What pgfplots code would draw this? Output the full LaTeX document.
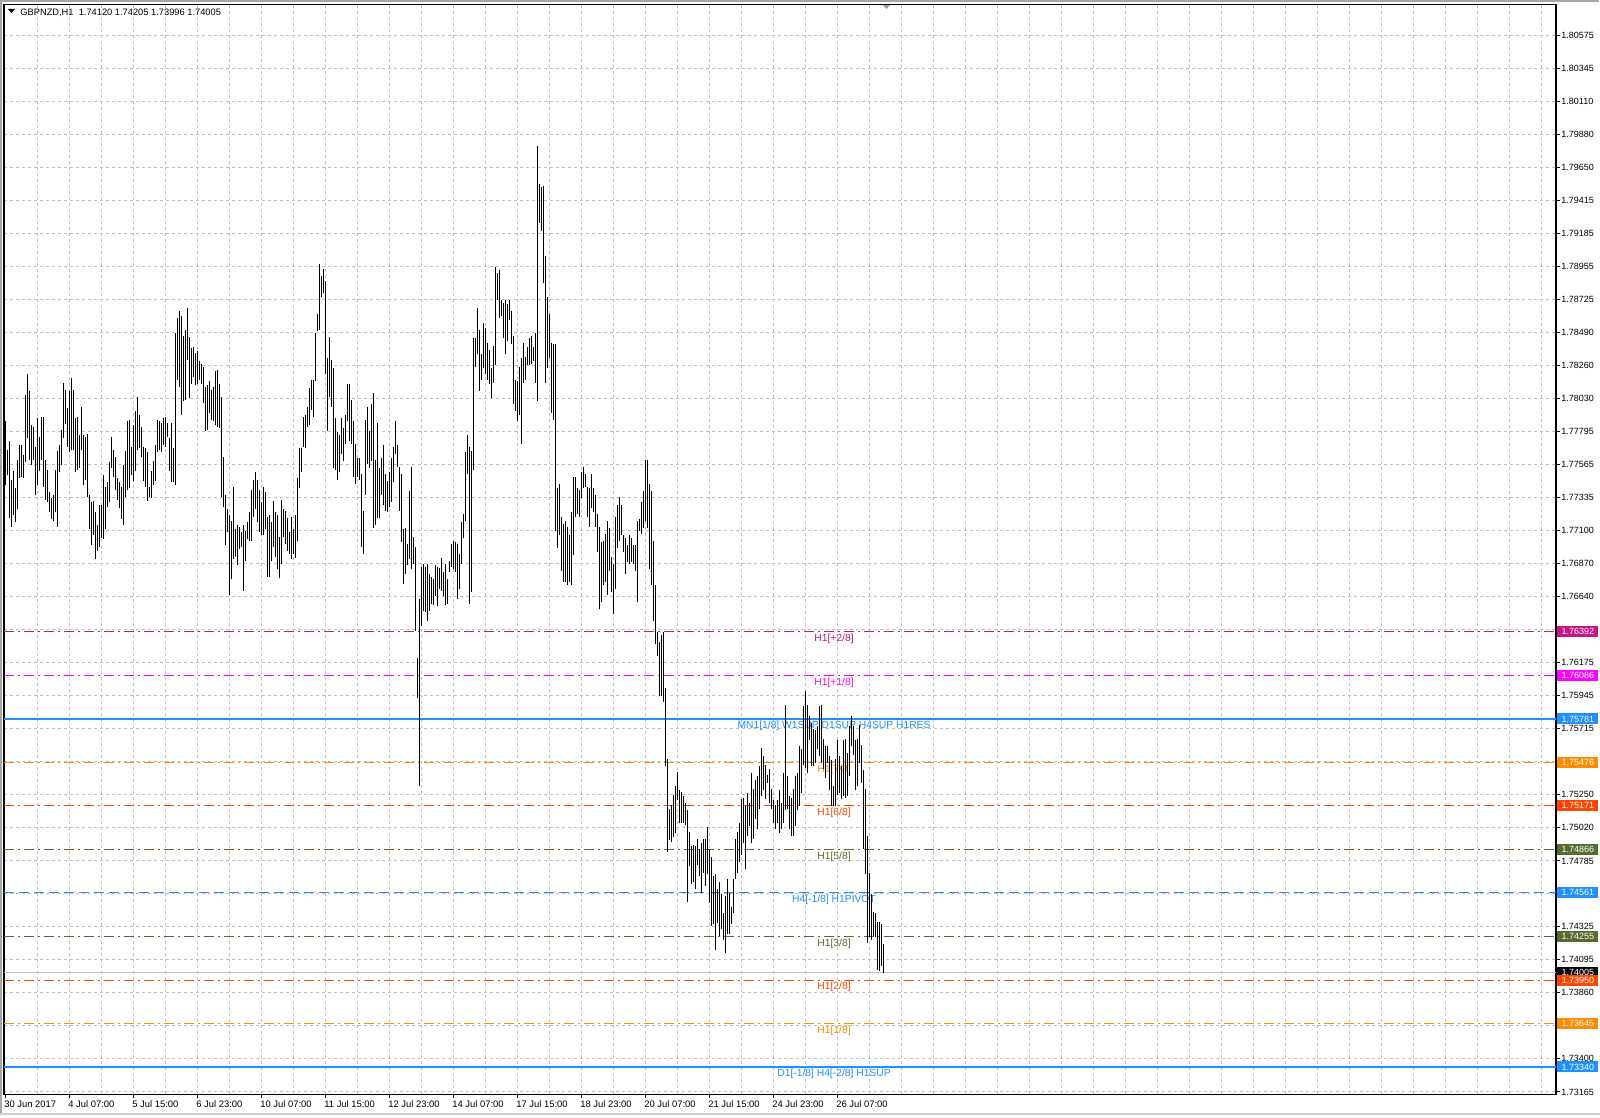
\documentclass[border=0pt]{standalone}
\usepackage{pgfplots}
\pgfplotsset{compat=1.18}
\usepackage{pgfplotstable}
\usepackage{fontspec}
\setmainfont{Liberation Sans}

\definecolor{mvred}{HTML}{C71585}
\definecolor{mag}{HTML}{FF00FF}
\definecolor{dblue}{HTML}{1E90FF}
\definecolor{dorange}{HTML}{FF8C00}
\definecolor{ored}{HTML}{FF4500}
\definecolor{olv}{HTML}{556B2F}
\definecolor{gridc}{HTML}{C0C0C0}

% GBPNZD H1 bars: low, high (bar index = row number)
\pgfplotstableread{
l h
1.7742 1.7787
1.7749 1.7767
1.7719 1.7773
1.7713 1.7746
1.7721 1.7752
1.7716 1.7740
1.7725 1.7760
1.7747 1.7770
1.7748 1.7770
1.7747 1.7763
1.7758 1.7805
1.7775 1.7820
1.7760 1.7808
1.7756 1.7784
1.7760 1.7783
1.7735 1.7769
1.7742 1.7789
1.7752 1.7776
1.7760 1.7790
1.7741 1.7790
1.7732 1.7760
1.7730 1.7753
1.7723 1.7737
1.7718 1.7733
1.7717 1.7735
1.7723 1.7753
1.7713 1.7766
1.7751 1.7770
1.7756 1.7781
1.7775 1.7814
1.7785 1.7809
1.7769 1.7796
1.7765 1.7808
1.7767 1.7817
1.7767 1.7809
1.7751 1.7789
1.7753 1.7790
1.7754 1.7777
1.7767 1.7797
1.7742 1.7777
1.7746 1.7776
1.7734 1.7778
1.7711 1.7735
1.7700 1.7730
1.7707 1.7731
1.7690 1.7723
1.7696 1.7714
1.7699 1.7728
1.7705 1.7728
1.7704 1.7749
1.7711 1.7741
1.7727 1.7744
1.7730 1.7758
1.7754 1.7776
1.7748 1.7767
1.7739 1.7762
1.7732 1.7747
1.7726 1.7744
1.7718 1.7741
1.7714 1.7756
1.7734 1.7766
1.7739 1.7787
1.7740 1.7788
1.7749 1.7769
1.7745 1.7784
1.7752 1.7794
1.7767 1.7804
1.7768 1.7791
1.7762 1.7783
1.7745 1.7769
1.7741 1.7768
1.7731 1.7765
1.7734 1.7741
1.7733 1.7752
1.7742 1.7759
1.7745 1.7770
1.7765 1.7788
1.7767 1.7787
1.7765 1.7786
1.7770 1.7789
1.7769 1.7790
1.7776 1.7786
1.7752 1.7775
1.7744 1.7786
1.7744 1.7768
1.7742 1.7849
1.7816 1.7859
1.7811 1.7864
1.7791 1.7861
1.7801 1.7847
1.7802 1.7851
1.7830 1.7866
1.7803 1.7846
1.7813 1.7838
1.7818 1.7839
1.7812 1.7835
1.7813 1.7836
1.7816 1.7829
1.7813 1.7827
1.7800 1.7825
1.7780 1.7811
1.7781 1.7812
1.7793 1.7815
1.7788 1.7809
1.7787 1.7811
1.7784 1.7822
1.7783 1.7823
1.7782 1.7813
1.7734 1.7804
1.7727 1.7762
1.7700 1.7735
1.7709 1.7725
1.7665 1.7721
1.7676 1.7717
1.7690 1.7741
1.7692 1.7711
1.7686 1.7714
1.7697 1.7713
1.7699 1.7709
1.7668 1.7714
1.7689 1.7710
1.7704 1.7716
1.7703 1.7723
1.7703 1.7739
1.7720 1.7746
1.7725 1.7751
1.7716 1.7746
1.7709 1.7739
1.7707 1.7730
1.7707 1.7741
1.7711 1.7737
1.7678 1.7720
1.7678 1.7721
1.7689 1.7716
1.7699 1.7731
1.7692 1.7723
1.7683 1.7721
1.7677 1.7706
1.7687 1.7732
1.7706 1.7725
1.7701 1.7724
1.7696 1.7719
1.7694 1.7709
1.7690 1.7720
1.7694 1.7711
1.7691 1.7721
1.7703 1.7747
1.7740 1.7768
1.7751 1.7768
1.7769 1.7790
1.7768 1.7791
1.7783 1.7797
1.7784 1.7810
1.7795 1.7816
1.7790 1.7816
1.7815 1.7849
1.7850 1.7862
1.7851 1.7897
1.7874 1.7889
1.7877 1.7894
1.7820 1.7885
1.7780 1.7831
1.7804 1.7846
1.7797 1.7830
1.7754 1.7824
1.7753 1.7789
1.7746 1.7779
1.7751 1.7777
1.7764 1.7789
1.7759 1.7782
1.7771 1.7791
1.7787 1.7813
1.7773 1.7813
1.7771 1.7802
1.7748 1.7787
1.7743 1.7771
1.7748 1.7761
1.7746 1.7761
1.7699 1.7750
1.7694 1.7724
1.7735 1.7788
1.7757 1.7797
1.7754 1.7780
1.7759 1.7799
1.7712 1.7807
1.7714 1.7760
1.7719 1.7786
1.7719 1.7754
1.7735 1.7761
1.7728 1.7770
1.7724 1.7750
1.7723 1.7745
1.7727 1.7751
1.7730 1.7761
1.7744 1.7769
1.7764 1.7787
1.7755 1.7770
1.7724 1.7755
1.7702 1.7750
1.7673 1.7711
1.7680 1.7712
1.7686 1.7701
1.7690 1.7738
1.7683 1.7755
1.7687 1.7706
1.7640 1.7699
1.7593 1.7621
1.7531 1.7662
1.7643 1.7685
1.7654 1.7687
1.7653 1.7685
1.7647 1.7687
1.7654 1.7680
1.7659 1.7678
1.7658 1.7676
1.7664 1.7686
1.7657 1.7685
1.7669 1.7684
1.7668 1.7691
1.7664 1.7681
1.7658 1.7687
1.7659 1.7676
1.7681 1.7689
1.7685 1.7701
1.7683 1.7703
1.7681 1.7702
1.7662 1.7701
1.7669 1.7694
1.7687 1.7716
1.7705 1.7722
1.7717 1.7765
1.7750 1.7777
1.7659 1.7769
1.7667 1.7766
1.7753 1.7845
1.7825 1.7845
1.7834 1.7866
1.7808 1.7851
1.7816 1.7834
1.7824 1.7856
1.7820 1.7852
1.7816 1.7842
1.7813 1.7837
1.7803 1.7824
1.7814 1.7840
1.7826 1.7895
1.7872 1.7891
1.7859 1.7893
1.7861 1.7872
1.7845 1.7870
1.7834 1.7872
1.7843 1.7869
1.7858 1.7872
1.7841 1.7864
1.7799 1.7847
1.7794 1.7816
1.7787 1.7815
1.7791 1.7825
1.7771 1.7831
1.7814 1.7842
1.7816 1.7832
1.7826 1.7839
1.7826 1.7845
1.7827 1.7847
1.7829 1.7839
1.7814 1.7849
1.7801 1.7980
1.7926 1.7953
1.7920 1.7951
1.7884 1.7952
1.7814 1.7903
1.7824 1.7874
1.7831 1.7862
1.7793 1.7842
1.7788 1.7841
1.7710 1.7841
1.7698 1.7740
1.7707 1.7743
1.7682 1.7720
1.7674 1.7715
1.7674 1.7717
1.7672 1.7713
1.7674 1.7707
1.7672 1.7723
1.7693 1.7748
1.7720 1.7748
1.7722 1.7740
1.7720 1.7739
1.7733 1.7751
1.7740 1.7755
1.7741 1.7750
1.7720 1.7741
1.7713 1.7740
1.7726 1.7750
1.7723 1.7740
1.7713 1.7735
1.7695 1.7722
1.7655 1.7713
1.7660 1.7702
1.7672 1.7703
1.7674 1.7708
1.7665 1.7717
1.7682 1.7712
1.7667 1.7692
1.7652 1.7687
1.7669 1.7720
1.7698 1.7728
1.7703 1.7734
1.7707 1.7728
1.7695 1.7707
1.7680 1.7705
1.7688 1.7700
1.7687 1.7707
1.7688 1.7705
1.7687 1.7700
1.7682 1.7700
1.7660 1.7717
1.7710 1.7718
1.7708 1.7730
1.7712 1.7738
1.7717 1.7760
1.7712 1.7760
1.7683 1.7743
1.7672 1.7738
1.7647 1.7703
1.7631 1.7672
1.7622 1.7639
1.7594 1.7632
1.7594 1.7637
1.7590 1.7639
1.7545 1.7600
1.7485 1.7550
1.7493 1.7515
1.7492 1.7518
1.7495 1.7525
1.7498 1.7531
1.7521 1.7541
1.7505 1.7528
1.7505 1.7527
1.7505 1.7524
1.7504 1.7519
1.7450 1.7514
1.7475 1.7499
1.7462 1.7489
1.7464 1.7490
1.7459 1.7489
1.7476 1.7494
1.7468 1.7487
1.7456 1.7491
1.7470 1.7494
1.7461 1.7494
1.7469 1.7502
1.7449 1.7487
1.7433 1.7481
1.7434 1.7468
1.7416 1.7469
1.7435 1.7459
1.7426 1.7464
1.7431 1.7455
1.7423 1.7442
1.7414 1.7454
1.7427 1.7466
1.7427 1.7456
1.7434 1.7446
1.7442 1.7466
1.7466 1.7494
1.7470 1.7499
1.7478 1.7505
1.7483 1.7522
1.7491 1.7523
1.7473 1.7517
1.7496 1.7526
1.7503 1.7519
1.7491 1.7540
1.7494 1.7529
1.7508 1.7535
1.7501 1.7538
1.7515 1.7545
1.7524 1.7558
1.7528 1.7552
1.7522 1.7546
1.7533 1.7539
1.7519 1.7543
1.7515 1.7529
1.7505 1.7521
1.7501 1.7518
1.7505 1.7521
1.7498 1.7528
1.7501 1.7519
1.7505 1.7540
1.7514 1.7588
1.7515 1.7538
1.7501 1.7524
1.7496 1.7523
1.7496 1.7529
1.7503 1.7538
1.7514 1.7540
1.7517 1.7559
1.7526 1.7557
1.7546 1.7587
1.7544 1.7598
1.7540 1.7588
1.7563 1.7580
1.7545 1.7575
1.7545 1.7571
1.7547 1.7570
1.7557 1.7573
1.7552 1.7587
1.7547 1.7588
1.7543 1.7564
1.7537 1.7559
1.7547 1.7559
1.7528 1.7552
1.7517 1.7549
1.7517 1.7531
1.7517 1.7550
1.7525 1.7563
1.7526 1.7552
1.7522 1.7545
1.7524 1.7563
1.7523 1.7564
1.7524 1.7554
1.7538 1.7573
1.7559 1.7580
1.7553 1.7573
1.7528 1.7563
1.7531 1.7564
1.7547 1.7574
1.7533 1.7560
1.7487 1.7542
1.7469 1.7529
1.7421 1.7496
1.7425 1.7470
1.7423 1.7455
1.7426 1.7443
1.7425 1.7442
1.7402 1.7436
1.7401 1.7436
1.7405 1.7434
1.73996 1.74205
}\bars

\tikzset{
  dd/.style={line width=0.55pt, dash pattern=on 5pt off 2pt on 1pt off 2pt},
  lvl/.style={font=\fontsize{5.15pt}{6pt}\selectfont, inner sep=0pt, yshift=-3.5pt},
  tag/.style={text=white, font=\fontsize{4.5pt}{5pt}\selectfont, inner sep=0pt,
    minimum width=20.5pt, minimum height=5.5pt, anchor=west, xshift=0.5pt},
}

\begin{document}
\begin{tikzpicture}[x=1pt,y=1pt]
\fill[white] (0,0) rectangle (800,559);
\begin{axis}[
  at={(2pt,11.75pt)}, anchor=south west,
  scale only axis, width=776pt, height=545pt,
  xmin=-0.5, xmax=775.5, ymin=1.73147, ymax=1.80792,
  clip mode=individual,
  axis line style={black, line width=0.6pt},
  tick align=outside, major tick length=2pt, minor tick length=0pt,
  tick style={black, line width=0.5pt},
  xtick pos=left, ytick pos=right, yticklabel pos=right,
  xtick={0,32,...,416},
  xticklabels={30 Jun 2017, 4 Jul 07:00, 5 Jul 15:00, 6 Jul 23:00, 10 Jul 07:00,
    11 Jul 15:00, 12 Jul 23:00, 14 Jul 07:00, 17 Jul 15:00, 18 Jul 23:00,
    20 Jul 07:00, 21 Jul 15:00, 24 Jul 23:00, 26 Jul 07:00},
  minor xtick={16,32,...,768},
  xminorgrids=true, xmajorgrids=false, ymajorgrids=true,
  minor grid style={gridc, line width=0.5pt, dash pattern=on 1.5pt off 1.5pt},
  major grid style={gridc, line width=0.5pt, dash pattern=on 1.5pt off 1.5pt},
  ytick={1.73165,1.73400,1.73630,1.73860,1.74095,1.74325,1.74555,1.74785,1.75020,
    1.75250,1.75480,1.75715,1.75945,1.76175,1.76405,1.76640,1.76870,1.77100,1.77335,
    1.77565,1.77795,1.78030,1.78260,1.78490,1.78725,1.78955,1.79185,1.79415,1.79650,
    1.79880,1.80110,1.80345,1.80575},
  yticklabels={1.73165,1.73400,1.73630,1.73860,1.74095,1.74325,1.74555,1.74785,1.75020,
    1.75250,1.75480,1.75715,1.75945,1.76175,1.76405,1.76640,1.76870,1.77100,1.77335,
    1.77565,1.77795,1.78030,1.78260,1.78490,1.78725,1.78955,1.79185,1.79415,1.79650,
    1.79880,1.80110,1.80345,1.80575},
  xticklabel style={font=\fontsize{4.7pt}{5pt}\selectfont, anchor=north west,
    inner sep=0pt, xshift=-0.5pt, yshift=-1pt},
  yticklabel style={font=\fontsize{4.5pt}{5pt}\selectfont, anchor=west,
    inner sep=0pt, xshift=0.5pt},
]
% levels
\addplot[mvred, dd] coordinates {(-0.5,1.76392) (775.5,1.76392)};
\addplot[mag, dd] coordinates {(-0.5,1.76086) (775.5,1.76086)};
\addplot[dblue, line width=1pt] coordinates {(-0.5,1.75781) (775.5,1.75781)};
\addplot[dorange, dd, line width=0.75pt] coordinates {(-0.5,1.75476) (775.5,1.75476)};
\addplot[ored, dd] coordinates {(-0.5,1.75171) (775.5,1.75171)};
\addplot[olv, dd] coordinates {(-0.5,1.74866) (775.5,1.74866)};
\addplot[dblue, line width=0.55pt, dash pattern=on 5pt off 2.5pt] coordinates {(-0.5,1.74561) (775.5,1.74561)};
\addplot[olv, dd] coordinates {(-0.5,1.74255) (775.5,1.74255)};
\addplot[gridc, line width=0.6pt] coordinates {(-0.5,1.74005) (775.5,1.74005)};
\addplot[ored, dd, line width=0.5pt] coordinates {(-0.5,1.73950) (775.5,1.73950)};
\addplot[dorange, dd, line width=0.75pt] coordinates {(-0.5,1.73645) (775.5,1.73645)};
\addplot[dblue, line width=0.6pt] coordinates {(-0.5,1.73340) (775.5,1.73340)};

\node[lvl, text=mvred] at (axis cs:414.5,1.76392) {H1[+2/8]};
\node[lvl, text=mag] at (axis cs:414.5,1.76086) {H1[+1/8]};
\node[lvl, text=dblue] at (axis cs:414.5,1.75781) {MN1[1/8] W1SUP D1SUP H4SUP H1RES};
\node[lvl, text=dorange] at (axis cs:414.5,1.75476) {H1[7/8]};
\node[lvl, text=ored] at (axis cs:414.5,1.75171) {H1[6/8]};
\node[lvl, text=olv] at (axis cs:414.5,1.74866) {H1[5/8]};
\node[lvl, text=dblue] at (axis cs:414.5,1.74561) {H4[-1/8] H1PIVOT};
\node[lvl, text=olv] at (axis cs:414.5,1.74255) {H1[3/8]};
\node[lvl, text=ored] at (axis cs:414.5,1.73950) {H1[2/8]};
\node[lvl, text=dorange] at (axis cs:414.5,1.73645) {H1[1/8]};
\node[lvl, text=dblue] at (axis cs:414.5,1.73340) {D1[-1/8] H4[-2/8] H1SUP};

% bars: vertical segment from low to high
\addplot[black, line width=0.5pt, quiver={u=0, v=\thisrow{h}-\thisrow{l}}]
  table[x expr=\coordindex, y=l] {\bars};

\coordinate (r1) at (axis cs:775.5,1.76392);
\coordinate (r2) at (axis cs:775.5,1.76086);
\coordinate (r3) at (axis cs:775.5,1.75781);
\coordinate (r4) at (axis cs:775.5,1.75476);
\coordinate (r5) at (axis cs:775.5,1.75171);
\coordinate (r6) at (axis cs:775.5,1.74866);
\coordinate (r7) at (axis cs:775.5,1.74561);
\coordinate (r8) at (axis cs:775.5,1.74255);
\coordinate (r9) at (axis cs:775.5,1.74005);
\coordinate (r10) at (axis cs:775.5,1.73950);
\coordinate (r11) at (axis cs:775.5,1.73645);
\coordinate (r12) at (axis cs:775.5,1.73340);
\end{axis}
% price tags on the right scale
\node[tag, fill=mvred] at (r1) {1.76392};
\node[tag, fill=mag] at (r2) {1.76086};
\node[tag, fill=dblue] at (r3) {1.75781};
\node[tag, fill=dorange] at (r4) {1.75476};
\node[tag, fill=ored] at (r5) {1.75171};
\node[tag, fill=olv] at (r6) {1.74866};
\node[tag, fill=dblue] at (r7) {1.74561};
\node[tag, fill=olv] at (r8) {1.74255};
\node[tag, fill=black] at (r9) {1.74005};
\node[tag, fill=ored] at (r10) {1.73950};
\node[tag, fill=dorange] at (r11) {1.73645};
\node[tag, fill=dblue] at (r12) {1.73340};
% title and window frame
\fill[black] (4,554.5) -- (7.5,554.5) -- (5.75,552.5) -- cycle;
\node[anchor=west, inner sep=0pt, font=\fontsize{4.65pt}{5pt}\selectfont] at (10,552.5)
  {GBPNZD,H1\ \ 1.74120 1.74205 1.73996 1.74005};
\fill[black!40] (441.5,556.5) -- (445,556.5) -- (443.25,554.5) -- cycle;
\draw[black!35, line width=1pt] (0.5,1.5) -- (0.5,558.5) -- (799.5,558.5);
\draw[black!20, line width=1pt] (0,2) -- (800,2);
\pgfresetboundingbox
\path[use as bounding box] (0,0) rectangle (800,559);
\end{tikzpicture}
\end{document}
